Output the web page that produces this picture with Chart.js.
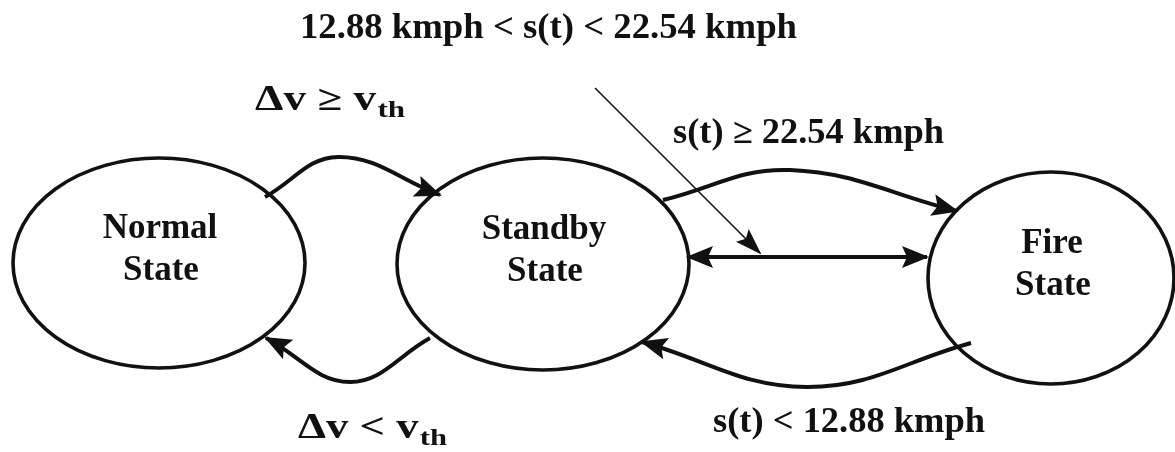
<!DOCTYPE html>
<html>
<head>
<meta charset="utf-8">
<script src="https://cdn.jsdelivr.net/npm/chart.js@4.4.1/dist/chart.umd.min.js"></script>
<style>
    html, body { margin: 0; padding: 0; background: #fff; }
    #wrap { width: 1175px; height: 452px; position: relative; }
</style>
</head>
<body>
<div id="wrap"><canvas id="stateChart"></canvas></div>
<script>
// diagram space: x 0..1175, y 0..452 (y grows downward)
const stateLabels = [["Normal", "State"], ["Standby", "State"], ["Fire", "State"]];
const stateX = [159, 543, 1051];
const stateY = [263, 264, 278];
const stateRx = [146, 146, 123];
const stateRy = [105, 106, 106];

// transitions: start, bend, arrow tip
const normalToStandbyX = [265, 338, 440];
const normalToStandbyY = [197, 157, 195];
const standbyToNormalX = [430, 350, 266];
const standbyToNormalY = [338, 382, 338];
const standbyToFireX = [663, 790, 957];
const standbyToFireY = [200, 170, 211];
const fireToStandbyX = [971, 807, 642];
const fireToStandbyY = [343, 387, 342];
const middleX = [688, 927];
const middleY = [257, 257];
const pointerX = [595, 760];
const pointerY = [88, 253];

const conditionTexts = [
    ["12.88 kmph < s(t) < 22.54 kmph", ""],
    ["\u0394v \u2265 v", "th"],
    ["s(t) \u2265 22.54 kmph", ""],
    ["\u0394v < v", "th"],
    ["s(t) < 12.88 kmph", ""]
];

// where the condition texts sit: left x, baseline y, width
const conditionBoxes = [
    { x: 300, y: 38, w: 497 },
    { x: 255, y: 110, w: 150 },
    { x: 673, y: 143, w: 271 },
    { x: 298, y: 438, w: 149 },
    { x: 713, y: 432, w: 272 }
];

const ink = "#111111";
const serif = "'Liberation Serif', 'Times New Roman', serif";

function toPoints(xs, ys) {
    return xs.map((x, i) => ({ x: x, y: ys[i] }));
}

function curve(xs, ys, width, tension, headStart) {
    return {
        data: toPoints(xs, ys),
        showLine: true,
        borderColor: ink,
        borderWidth: width,
        pointRadius: 0,
        tension: tension,
        fill: false,
        headStart: headStart
    };
}

function arrowHead(ctx, tip, from, len, half) {
    const a = Math.atan2(tip.y - from.y, tip.x - from.x);
    const bx = tip.x - Math.cos(a) * len;
    const by = tip.y - Math.sin(a) * len;
    ctx.beginPath();
    ctx.moveTo(tip.x + Math.cos(a) * 2, tip.y + Math.sin(a) * 2);
    ctx.lineTo(bx - Math.sin(a) * half, by + Math.cos(a) * half);
    ctx.lineTo(bx + Math.cos(a) * 5, by + Math.sin(a) * 5);
    ctx.lineTo(bx + Math.sin(a) * half, by - Math.cos(a) * half);
    ctx.closePath();
    ctx.fill();
}

const diagramPlugin = {
    id: "diagram",
    beforeDatasetsDraw(chart) {
        const ctx = chart.ctx;
        const sx = chart.scales.x, sy = chart.scales.y;
        ctx.save();
        ctx.strokeStyle = ink;
        ctx.lineWidth = 3.6;
        stateX.forEach((cx, i) => {
            const px = sx.getPixelForValue(cx);
            const py = sy.getPixelForValue(stateY[i]);
            const rx = Math.abs(sx.getPixelForValue(cx + stateRx[i]) - px);
            const ry = Math.abs(sy.getPixelForValue(stateY[i] + stateRy[i]) - py);
            ctx.beginPath();
            ctx.ellipse(px, py, rx, ry, 0, 0, Math.PI * 2);
            ctx.fillStyle = "#fff";
            ctx.fill();
            ctx.stroke();
        });
        ctx.restore();
    },
    afterDatasetsDraw(chart) {
        const ctx = chart.ctx;
        const sx = chart.scales.x, sy = chart.scales.y;
        ctx.save();
        ctx.fillStyle = ink;

        // arrow heads, pointing along the last piece of each line
        chart.data.datasets.forEach((ds, i) => {
            const pts = chart.getDatasetMeta(i).data;
            const n = pts.length;
            const last = pts[n - 1];
            const from = (ds.tension > 0 && last.cp1x !== undefined)
                ? { x: last.cp1x, y: last.cp1y } : pts[n - 2];
            const half = ds.borderWidth > 2 ? 11 : 9;
            arrowHead(ctx, last, from, 25, half);
            if (ds.headStart) arrowHead(ctx, pts[0], pts[1], 25, half);
        });

        // state names
        ctx.font = "bold 35px " + serif;
        ctx.textAlign = "center";
        ctx.textBaseline = "alphabetic";
        stateLabels.forEach((lines, i) => {
            const px = sx.getPixelForValue(stateX[i]);
            const py = sy.getPixelForValue(stateY[i]);
            ctx.fillText(lines[0], px + 1, py - 25);
            ctx.fillText(lines[1], px + 2, py + 17);
        });

        // transition conditions, stretched to the width they take in the figure
        ctx.textAlign = "left";
        conditionTexts.forEach((t, i) => {
            const box = conditionBoxes[i];
            const px = sx.getPixelForValue(box.x);
            const py = sy.getPixelForValue(box.y);
            const pw = sx.getPixelForValue(box.x + box.w) - px;
            ctx.font = "bold 35px " + serif;
            const mainW = ctx.measureText(t[0]).width;
            ctx.font = "bold 24px " + serif;
            const subW = t[1] ? ctx.measureText(t[1]).width + 1 : 0;
            const k = pw / (mainW + subW);
            ctx.save();
            ctx.translate(px, py);
            ctx.scale(k, 1);
            ctx.font = "bold 35px " + serif;
            ctx.fillText(t[0], 0, 0);
            if (t[1]) {
                ctx.font = "bold 24px " + serif;
                ctx.fillText(t[1], mainW + 1, 7);
            }
            ctx.restore();
        });
        ctx.restore();
    }
};

new Chart(document.getElementById("stateChart"), {
    type: "scatter",
    data: {
        datasets: [
            curve(normalToStandbyX, normalToStandbyY, 4, 0.4, false),
            curve(standbyToNormalX, standbyToNormalY, 4, 0.4, false),
            curve(standbyToFireX, standbyToFireY, 4, 0.4, false),
            curve(fireToStandbyX, fireToStandbyY, 4, 0.4, false),
            curve(middleX, middleY, 4, 0, true),
            curve(pointerX, pointerY, 1.6, 0, false)
        ]
    },
    options: {
        responsive: true,
        maintainAspectRatio: false,
        animation: false,
        clip: false,
        layout: { padding: 0 },
        plugins: {
            legend: { display: false },
            tooltip: { enabled: false }
        },
        scales: {
            x: { type: "linear", min: 0, max: 1175, display: false },
            y: { type: "linear", min: 0, max: 452, reverse: true, display: false }
        }
    },
    plugins: [diagramPlugin]
});
</script>
</body>
</html>
